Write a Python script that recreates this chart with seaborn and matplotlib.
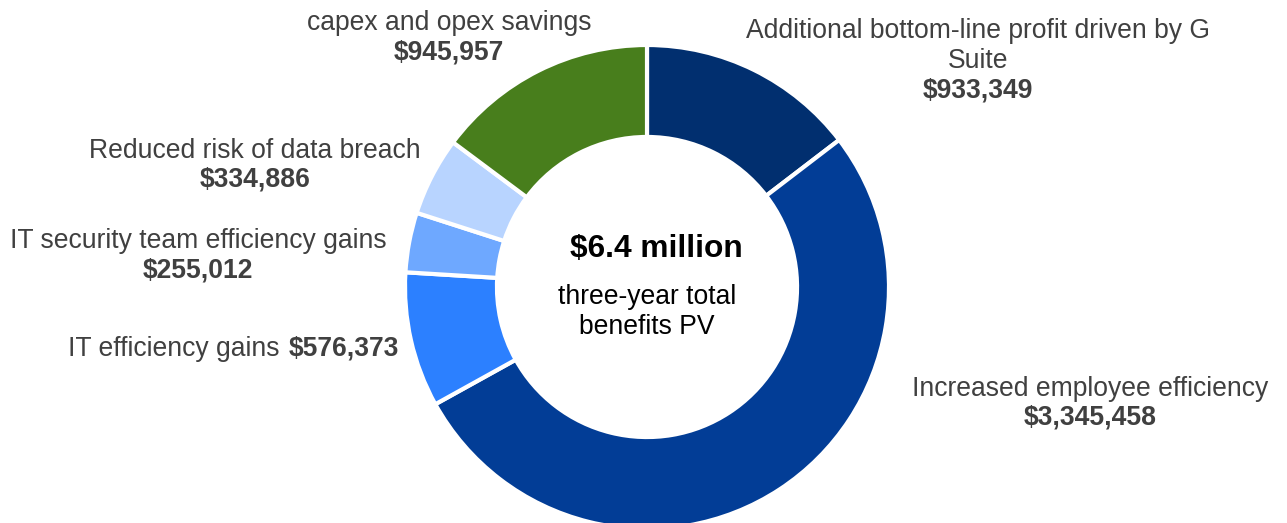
import matplotlib
matplotlib.use("Agg")
import matplotlib.pyplot as plt
import seaborn as sns

categories = [
    "Additional bottom-line profit driven by G Suite",
    "Increased employee efficiency",
    "IT efficiency gains",
    "IT security team efficiency gains",
    "Reduced risk of data breach",
    "capex and opex savings",
]
values = [933349, 3345458, 576373, 255012, 334886, 945957]
colors = ["#012F6F", "#023D96", "#2C80FF", "#6EA8FF", "#B8D4FF", "#487E1C"]
center_title = "$6.4 million"
center_sub = ["three-year total", "benefits PV"]

sns.set_theme(style="white")
plt.rcParams["font.family"] = ["Liberation Sans", "DejaVu Sans"]

W, H = 1287, 523
fig = plt.figure(figsize=(W / 100, H / 100), dpi=100)
ax = fig.add_axes([0, 0, 1, 1])
ax.set_xlim(0, W)
ax.set_ylim(0, H)
ax.axis("off")

cx, cy, R = 647, H - 287, 242
ax.pie(values, colors=colors, startangle=90, counterclock=False,
       center=(cx, cy), radius=R, frame=True,
       wedgeprops=dict(width=R * 0.38, edgecolor="white", linewidth=3))
ax.set_xlim(0, W)
ax.set_ylim(0, H)
ax.axis("off")

gray = "#404040"
fs = 19.1

def Y(y):
    return H - y - 1.5

def fmt(v):
    return "${:,}".format(v)

def two_line(x, ys, lines, bold_val):
    for (y, t) in zip(ys, lines):
        ax.text(x, Y(y), t, ha="center", va="center", fontsize=fs, color=gray)
    ax.text(x, Y(ys[-1] + 29), bold_val, ha="center", va="center", fontsize=fs,
            color=gray, fontweight="bold")

two_line(449, [22], [categories[5]], fmt(values[5]))
two_line(978, [30, 60], ["Additional bottom-line profit driven by G", "Suite"], fmt(values[0]))
two_line(255, [149], [categories[4]], fmt(values[4]))
two_line(198, [240], [categories[3]], fmt(values[3]))
two_line(1090, [387], [categories[1]], fmt(values[1]))

ax.text(279, Y(347), categories[2], ha="right", va="center", fontsize=fs, color=gray)
ax.text(399, Y(347), fmt(values[2]), ha="right", va="center", fontsize=fs,
        color=gray, fontweight="bold")

ax.text(656, Y(247), center_title, ha="center", va="center", fontsize=22.8,
        color="black", fontweight="bold")
ax.text(647, Y(295), center_sub[0], ha="center", va="center", fontsize=fs, color="black")
ax.text(647, Y(325), center_sub[1], ha="center", va="center", fontsize=fs, color="black")

fig.savefig("out.png", dpi=100, facecolor="white")
